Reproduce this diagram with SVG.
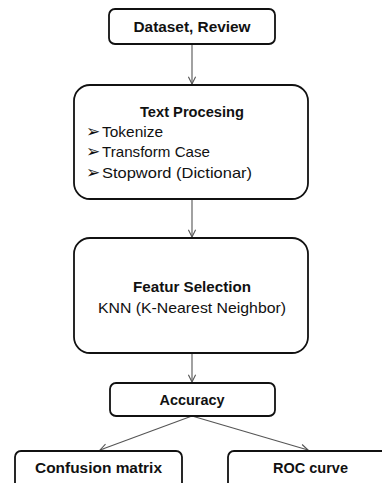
<svg xmlns="http://www.w3.org/2000/svg" width="382" height="483" viewBox="0 0 382 483">
<defs>
<style>
.box{fill:#fff;stroke:#111;stroke-width:1.8}
.t{font-family:"Liberation Sans",Arial,sans-serif;fill:#111}
.b{font-weight:bold}
.c{stroke:#555;stroke-width:1.1;fill:none}
.bul{font-family:"DejaVu Sans",sans-serif}
</style>
<marker id="ah" viewBox="0 0 10 10" refX="9" refY="5" markerWidth="9" markerHeight="9" markerUnits="userSpaceOnUse" orient="auto">
<path d="M1,1 L9,5 L1,9" fill="none" stroke="#555" stroke-width="1.2"/>
</marker>
</defs>
<rect width="382" height="483" fill="#fff"/>
<g id="connectors">
<line class="c" x1="192" y1="44" x2="192" y2="84" marker-end="url(#ah)"/>
<line class="c" x1="192" y1="199" x2="192" y2="237" marker-end="url(#ah)"/>
<line class="c" x1="192" y1="353" x2="192" y2="382" marker-end="url(#ah)"/>
<line class="c" x1="192" y1="416" x2="100" y2="450" marker-end="url(#ah)"/>
<line class="c" x1="192" y1="416" x2="308" y2="450" marker-end="url(#ah)"/>
</g>
<g id="dataset">
<rect class="box" x="109" y="9" width="166" height="35" rx="6"/>
<text class="t b" x="192" y="32" font-size="14" text-anchor="middle" textLength="117" lengthAdjust="spacingAndGlyphs">Dataset, Review</text>
</g>
<g id="textprocessing">
<rect class="box" x="74" y="85" width="234" height="114" rx="16"/>
<text class="t b" x="192" y="117" font-size="14" text-anchor="middle" textLength="104" lengthAdjust="spacingAndGlyphs">Text Procesing</text>
<text class="t bul" x="86" y="137" font-size="17">➢</text>
<text class="t" x="102" y="137" font-size="15" textLength="61" lengthAdjust="spacingAndGlyphs">Tokenize</text>
<text class="t bul" x="86" y="157" font-size="17">➢</text>
<text class="t" x="102" y="157" font-size="15" textLength="108" lengthAdjust="spacingAndGlyphs">Transform Case</text>
<text class="t bul" x="86" y="178" font-size="17">➢</text>
<text class="t" x="102" y="178" font-size="15" textLength="150" lengthAdjust="spacingAndGlyphs">Stopword (Dictionar)</text>
</g>
<g id="feature">
<rect class="box" x="74" y="238" width="234" height="115" rx="16"/>
<text class="t b" x="192" y="292" font-size="14" text-anchor="middle" textLength="118" lengthAdjust="spacingAndGlyphs">Featur Selection</text>
<text class="t" x="192" y="313" font-size="15" text-anchor="middle" textLength="188" lengthAdjust="spacingAndGlyphs">KNN (K-Nearest Neighbor)</text>
</g>
<g id="accuracy">
<rect class="box" x="110" y="383" width="165" height="33" rx="6"/>
<text class="t b" x="192" y="405" font-size="14" text-anchor="middle" textLength="65" lengthAdjust="spacingAndGlyphs">Accuracy</text>
</g>
<g id="confusion">
<rect class="box" x="15" y="451" width="167" height="45" rx="6"/>
<text class="t b" x="98.5" y="473" font-size="14" text-anchor="middle" textLength="127" lengthAdjust="spacingAndGlyphs">Confusion matrix</text>
</g>
<g id="roc">
<rect class="box" x="228" y="451" width="166" height="45" rx="6"/>
<text class="t b" x="310.5" y="473" font-size="14" text-anchor="middle" textLength="75" lengthAdjust="spacingAndGlyphs">ROC curve</text>
</g>
</svg>
